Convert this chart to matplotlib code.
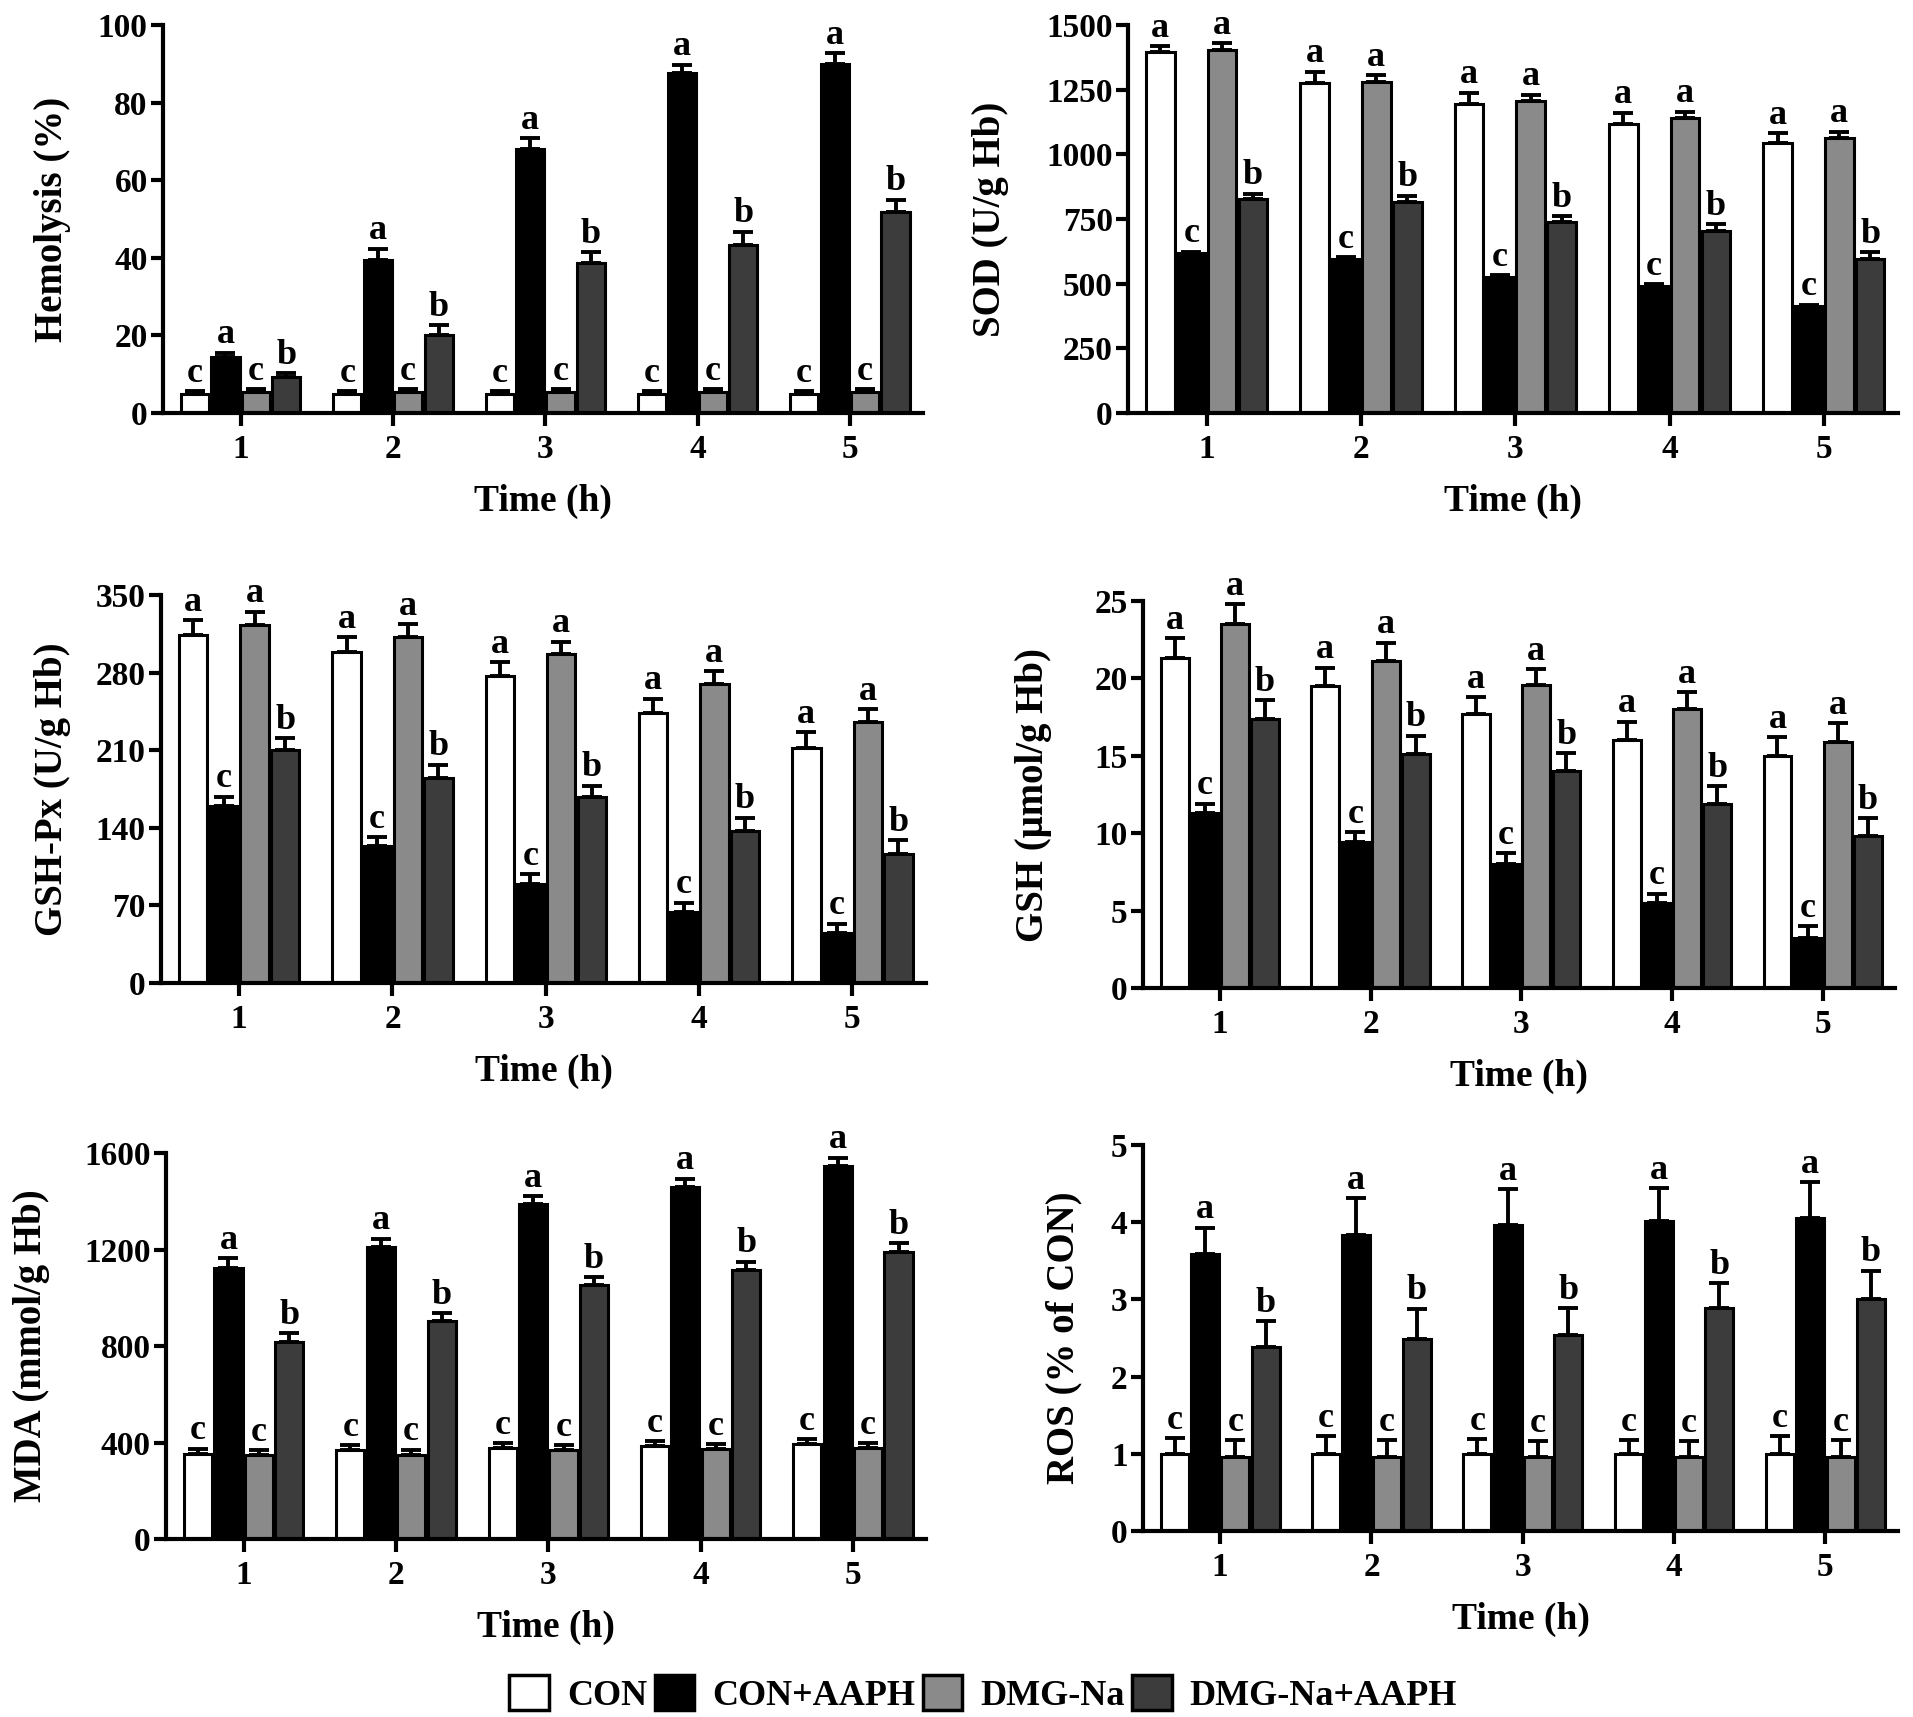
import numpy as np
import matplotlib

matplotlib.use("Agg")
import matplotlib.pyplot as plt  # noqa: E402
from matplotlib.patches import Patch  # noqa: E402

plt.rcParams["font.family"] = ["Liberation Serif", "DejaVu Serif"]
plt.rcParams["font.weight"] = "bold"

times = [1, 2, 3, 4, 5]
groups = ["CON", "CON+AAPH", "DMG-Na", "DMG-Na+AAPH"]
colors = ["#ffffff", "#000000", "#8a8a8a", "#3c3c3c"]

# Hemolysis (%)
hemo_mean = [[5, 5, 5, 5, 5],
             [14.5, 39.5, 68, 87.5, 90],
             [5.5, 5.5, 5.5, 5.5, 5.5],
             [9.3, 20.2, 38.6, 43.4, 51.8]]
hemo_err = [[0.6, 0.6, 0.6, 0.6, 0.6],
            [1.0, 2.8, 2.9, 2.3, 2.7],
            [0.6, 0.6, 0.6, 0.6, 0.6],
            [0.9, 2.5, 2.9, 3.3, 3.2]]
hemo_sig = ["c", "a", "c", "b"]

# SOD (U/g Hb)
sod_mean = [[1395, 1274, 1193, 1119, 1042],
            [617, 597, 526, 491, 412],
            [1402, 1281, 1207, 1141, 1063],
            [827, 816, 737, 705, 597]]
sod_err = [[24, 45, 46, 42, 39],
           [6, 6, 6, 6, 6],
           [28, 24, 24, 24, 25],
           [21, 24, 24, 24, 24]]
sod_sig = ["a", "c", "a", "b"]

# GSH-Px (U/g Hb)
gpx_mean = [[314, 299, 277, 244, 212],
            [160, 124, 89, 64, 45],
            [323, 312, 297, 270, 235],
            [210, 185, 168, 137, 116]]
gpx_err = [[13, 13, 12.5, 12.5, 14],
           [8, 7.5, 9, 8.4, 8.4],
           [12, 11.5, 11, 11, 12],
           [11, 12, 10, 12, 13]]
gpx_sig = ["a", "c", "a", "b"]

# GSH (umol/g Hb)
gsh_mean = [[21.3, 19.5, 17.7, 16.0, 15.0],
            [11.3, 9.45, 8.0, 5.5, 3.2],
            [23.5, 21.1, 19.6, 18.0, 15.9],
            [17.4, 15.1, 14.0, 11.9, 9.8]]
gsh_err = [[1.3, 1.2, 1.1, 1.2, 1.2],
           [0.6, 0.6, 0.7, 0.6, 0.8],
           [1.3, 1.2, 1.0, 1.1, 1.2],
           [1.2, 1.2, 1.15, 1.15, 1.15]]
gsh_sig = ["a", "c", "a", "b"]

# MDA (mmol/g Hb)
mda_mean = [[352, 368, 377, 385, 393],
            [1125, 1212, 1389, 1461, 1548],
            [347, 350, 368, 372, 377],
            [816, 904, 1051, 1117, 1191]]
mda_err = [[22, 20, 20, 20, 20],
           [38, 33, 33, 33, 33],
           [22, 20, 20, 20, 20],
           [36, 33, 33, 33, 36]]
mda_sig = ["c", "a", "c", "b"]

# ROS (% of CON)
ros_mean = [[1.0, 1.0, 1.0, 1.0, 1.0],
            [3.59, 3.83, 3.97, 4.02, 4.06],
            [0.96, 0.96, 0.96, 0.96, 0.96],
            [2.38, 2.49, 2.54, 2.89, 3.01]]
ros_err = [[0.2, 0.23, 0.19, 0.18, 0.23],
           [0.34, 0.48, 0.46, 0.42, 0.46],
           [0.22, 0.22, 0.2, 0.2, 0.22],
           [0.34, 0.39, 0.35, 0.32, 0.36]]
ros_sig = ["c", "a", "c", "b"]

W, H = 1913, 1717
fig = plt.figure(figsize=(W / 100, H / 100), dpi=100)

LW = 3.0
panels = [
    # axes box in figure px (left, bottom, right, top), ylabel, yticks,
    # data, x of the y-label's right edge (px)
    ([163, 413, 923, 25], "Hemolysis (%)", [0, 20, 40, 60, 80, 100],
     hemo_mean, hemo_err, hemo_sig, 71),
    ([1128, 413, 1898, 25], "SOD (U/g Hb)", [0, 250, 500, 750, 1000, 1250, 1500],
     sod_mean, sod_err, sod_sig, 1009),
    ([161, 983, 926, 595], "GSH-Px (U/g Hb)", [0, 70, 140, 210, 280, 350],
     gpx_mean, gpx_err, gpx_sig, 71),
    ([1143, 988, 1895, 601], "GSH (\u03bcmol/g Hb)", [0, 5, 10, 15, 20, 25],
     gsh_mean, gsh_err, gsh_sig, 1052),
    ([166, 1539, 926, 1153], "MDA (mmol/g Hb)", [0, 400, 800, 1200, 1600],
     mda_mean, mda_err, mda_sig, 50),
    ([1143, 1531, 1898, 1145], "ROS (% of CON)", [0, 1, 2, 3, 4, 5],
     ros_mean, ros_err, ros_sig, 1082),
]

x = np.array(times, dtype=float)
step, width = 0.2, 0.185

for (x0, y0, x1, y1), ylab, yt, means, errs, sig, labx in panels:
    ax = fig.add_axes([x0 / W, 1 - y0 / H, (x1 - x0) / W, (y0 - y1) / H])
    for i in range(4):
        pos = x + (i - 1.5) * step
        m = np.array(means[i])
        e = np.array(errs[i])
        ax.bar(pos, m, width=width, color=colors[i], edgecolor="black",
               linewidth=2.2, zorder=2)
        ax.errorbar(pos, m, yerr=[np.zeros_like(e), e], fmt="none",
                    ecolor="black", elinewidth=2.8, capsize=7, capthick=2.8,
                    zorder=3)
        for px, top in zip(pos, m + e):
            ax.annotate(sig[i], (px, top), xytext=(0, 1),
                        textcoords="offset points", ha="center", va="bottom",
                        fontsize=26, fontweight="bold", annotation_clip=False)
    ax.set_xlim(0.49, 5.48)
    ax.set_ylim(0, yt[-1])
    ax.set_yticks(yt)
    ax.set_xticks(times)
    for s in ("top", "right"):
        ax.spines[s].set_visible(False)
    for s in ("left", "bottom"):
        ax.spines[s].set_linewidth(LW)
    ax.tick_params(axis="y", direction="out", length=9, width=LW, pad=2,
                   labelsize=24)
    ax.tick_params(axis="x", direction="out", length=9, width=LW, pad=6,
                   labelsize=24)
    for t in ax.get_xticklabels() + ax.get_yticklabels():
        t.set_fontweight("bold")
    ax.set_xlabel("Time (h)", fontsize=27, fontweight="bold", labelpad=14)
    ax.set_ylabel(ylab, fontsize=28, fontweight="bold")
    ax.yaxis.set_label_coords(labx / W, 1 - ((y0 + y1) / 2) / H,
                              transform=fig.transFigure)

handles = [Patch(facecolor=c, edgecolor="black", linewidth=2.5) for c in colors]
fig.legend(handles, groups, loc="center", bbox_to_anchor=(0.514, 0.0135),
           ncol=4, frameon=False, handlelength=1.1, handleheight=1.1,
           handletextpad=0.5, columnspacing=0.2,
           prop={"weight": "bold", "size": 26})

fig.savefig("out.png", dpi=100)
